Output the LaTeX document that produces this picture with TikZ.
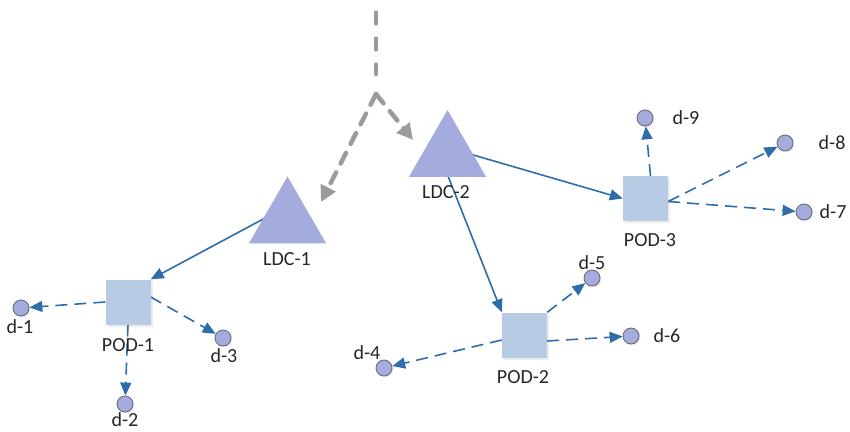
\documentclass[tikz,border=0pt]{standalone}
\usepackage{fontspec}
\setmainfont{Carlito}
\usetikzlibrary{arrows.meta,shapes.geometric,backgrounds,shadows}
\definecolor{lnblue}{RGB}{46,108,170}
\definecolor{trifill}{RGB}{164,172,222}
\definecolor{podfill}{RGB}{183,204,228}
\definecolor{devborder}{RGB}{100,100,110}
\definecolor{feedgray}{RGB}{155,155,155}
\tikzset{
  ldcshape/.style={regular polygon, regular polygon sides=3, minimum size=89pt, inner sep=0pt, fill=trifill, draw=none},
  podbox/.style={rectangle, minimum size=45pt, inner sep=0pt, fill=podfill, drop shadow={opacity=0.15, shadow xshift=2pt, shadow yshift=-2pt}},
  devnode/.style={circle, minimum size=16pt, inner sep=0pt, fill=trifill, draw=devborder, line width=0.8pt, drop shadow={opacity=0.15, shadow xshift=1.5pt, shadow yshift=-1.5pt}},
  lbl/.style={font=\fontsize{20}{24}\selectfont, inner sep=0pt, text=black!85},
  solidlink/.style={draw=lnblue, line width=1.6pt, -{Triangle[length=13pt,width=11pt]}},
  dashlink/.style={solidlink, dash pattern=on 12pt off 7pt},
  feedline/.style={draw=feedgray, line width=4.5pt, line cap=round, dash pattern=on 11pt off 15pt},
  feedarrow/.style={draw=feedgray, line width=4.5pt, line cap=round, dash pattern=on 12pt off 10pt, -{Triangle[length=16pt,width=16pt]}}
}
\begin{document}
\begin{tikzpicture}[x=1pt,y=-1pt]
\useasboundingbox (0,0) rectangle (850,431);
% triangles
\node[ldcshape] (ldc1) at (287.5,221) {};
\node[ldcshape] (ldc2) at (447.5,154.5) {};
\node[lbl] (ldc1l) at (287,259) {LDC-1};
\node[lbl] (ldc2l) at (446,192) {LDC-2};
% pods
\node[podbox] (pod1) at (128,302) {};
\node[podbox] (pod2) at (524.5,335) {};
\node[podbox] (pod3) at (645.5,198.5) {};
\node[lbl] (pod1l) at (128,345) {POD-1};
\node[lbl] (pod2l) at (523,377) {POD-2};
\node[lbl] (pod3l) at (650,240) {POD-3};
% devices
\node[devnode] (d1) at (21,308) {};
\node[devnode] (d2) at (125,404) {};
\node[devnode] (d3) at (223,338) {};
\node[devnode] (d4) at (384,368) {};
\node[devnode] (d5) at (592,278) {};
\node[devnode] (d6) at (631,336) {};
\node[devnode] (d7) at (804,212) {};
\node[devnode] (d8) at (785,143) {};
\node[devnode] (d9) at (645,118) {};
\node[lbl] (d1l) at (20,327) {d-1};
\node[lbl] (d2l) at (125,420) {d-2};
\node[lbl] (d3l) at (224,356) {d-3};
\node[lbl] (d4l) at (367,353) {d-4};
\node[lbl] (d5l) at (592,263) {d-5};
\node[lbl] (d6l) at (667,336) {d-6};
\node[lbl] (d7l) at (833,212) {d-7};
\node[lbl] (d8l) at (832,143) {d-8};
\node[lbl] (d9l) at (686,118) {d-9};
% feed
\coordinate (ftop) at (376,12.5);
\coordinate (fend) at (376,74);
\coordinate (fapex) at (376,94);
\coordinate (f1) at (321,202);
\coordinate (f2) at (413,140);
\draw[feedline] (ftop) -- (fend);
\draw[feedarrow] (fapex) -- (f1);
\draw[feedarrow] (fapex) -- (f2);
% links
\begin{scope}[on background layer]
\draw[solidlink] ([yshift=15pt]ldc1.center) -- (pod1.north east);
\draw[solidlink] ([yshift=7pt]ldc2.center) -- (pod3.west);
\draw[solidlink] ([xshift=-8pt]ldc2.center) -- (pod2.north west);
\draw[dashlink] (pod1.west) -- (d1);
\draw[dashlink] (pod1.south) -- (d2);
\draw[dashlink] ([yshift=5pt]pod1.east) -- (d3);
\draw[dashlink] ([yshift=-5pt]pod2.west) -- (d4);
\draw[dashlink] (pod2.north east) -- (d5);
\draw[dashlink] ([yshift=-6pt]pod2.east) -- (d6);
\draw[dashlink] ([xshift=5pt]pod3.north) -- (d9);
\draw[dashlink] ([yshift=-3pt]pod3.east) -- (d8);
\draw[dashlink] ([yshift=-3pt]pod3.east) -- (d7);
\end{scope}
\end{tikzpicture}
\end{document}
